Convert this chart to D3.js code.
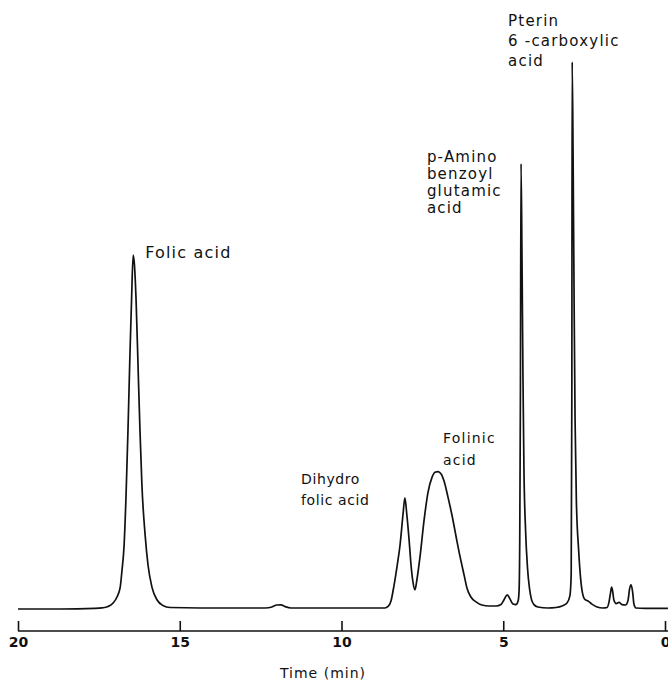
<!DOCTYPE html>
<html>
<head>
<meta charset="utf-8">
<script src="https://cdn.jsdelivr.net/npm/d3@7"></script>
<style>
  body { margin: 0; background: #fff; }
  svg { display: block; }
  .lbl { font-family: "DejaVu Sans", sans-serif; fill: #111; }
</style>
</head>
<body>
<div id="chart"></div>
<script>
// retention time (min) and detector response (% of largest peak)
const timeMin = [
  20.00, 18.70, 17.62, 17.40, 17.22, 17.06, 16.94, 16.84, 16.79, 16.72,
  16.66, 16.60, 16.54, 16.49, 16.44, 16.40, 16.35, 16.29, 16.23, 16.17,
  16.07, 15.98, 15.86, 15.70, 15.52, 15.30, 14.37, 12.36, 12.15, 12.00,
  11.87, 11.75, 11.56, 8.66, 8.56, 8.47, 8.38, 8.28, 8.19, 8.10,
  8.04, 7.98, 7.91, 7.85, 7.79, 7.73, 7.67, 7.57, 7.45, 7.33,
  7.20, 7.11, 7.02, 6.92, 6.83, 6.71, 6.58, 6.46, 6.34, 6.21,
  6.12, 6.00, 5.84, 5.66, 5.44, 5.22, 5.07, 4.98, 4.88, 4.79,
  4.70, 4.61, 4.54, 4.51, 4.49, 4.47, 4.45, 4.42, 4.39, 4.36,
  4.31, 4.25, 4.19, 4.13, 4.05, 3.93, 3.62, 3.37, 3.18, 3.03,
  2.94, 2.90, 2.88, 2.87, 2.84, 2.81, 2.78, 2.74, 2.67, 2.61,
  2.55, 2.47, 2.38, 2.26, 2.10, 1.92, 1.79, 1.73, 1.68, 1.65,
  1.62, 1.58, 1.51, 1.42, 1.33, 1.22, 1.14, 1.10, 1.05, 1.00,
  0.96, 0.90, 0.62, -0.09
];
const response = [
  0.0, 0.0, 0.1, 0.2, 0.45, 1.1, 2.2, 4.0, 6.8, 11.7,
  20.8, 32.7, 46.4, 56.5, 64.7, 62.9, 56.5, 44.6, 32.7, 22.7,
  13.5, 8.0, 4.0, 1.65, 0.64, 0.27, 0.18, 0.18, 0.37, 0.73,
  0.77, 0.46, 0.18, 0.18, 0.46, 1.46, 4.2, 7.9, 11.7, 17.2,
  20.3, 17.2, 12.6, 8.0, 4.9, 3.5, 5.3, 9.7, 16.1, 21.2,
  24.1, 25.0, 25.1, 24.7, 23.4, 20.5, 17.0, 13.3, 9.7, 6.2,
  3.8, 2.2, 1.3, 0.73, 0.55, 0.55, 0.82, 1.65, 2.6, 1.8,
  0.9, 0.8, 1.46, 3.5, 12.6, 38.2, 81.4, 63.8, 41.9, 25.4,
  14.4, 7.5, 3.8, 1.8, 0.8, 0.37, 0.18, 0.27, 0.55, 1.1,
  2.4, 6.2, 38.2, 100, 82.1, 56.5, 34.6, 19.9, 10.8, 5.7,
  2.9, 1.7, 1.46, 0.9, 0.37, 0.18, 0.27, 1.3, 3.1, 4.0,
  3.3, 1.65, 1.0, 1.2, 0.8, 0.73, 1.65, 3.5, 4.4, 3.1,
  0.9, 0.18, 0.1, 0.1
];
const tickValues = [20, 15, 10, 5, 0];
const axisTitle = 'Time (min)';

// peak names, anchored at (time, response) of the first line's left baseline
const peakNames = [
  ['Folic acid'],
  ['Dihydro', 'folic acid'],
  ['Folinic', 'acid'],
  ['p-Amino', 'benzoyl', 'glutamic', 'acid'],
  ['Pterin', '6 -carboxylic', 'acid']
];
const nameTime = [16.07, 11.25, 6.86, 7.36, 4.85];
const nameResp = [64.2, 22.9, 30.3, 81.7, 106.6];

const W = 668, H = 682;
const svg = d3.select('#chart').append('svg').attr('width', W).attr('height', H);

const x = d3.scaleLinear().domain([20, 0]).range([18, 665]);
const y = d3.scaleLinear().domain([0, 100]).range([609, 62]);

const pts = timeMin.map((t, i) => [t, response[i]]);
const line = d3.line()
  .x(d => x(d[0]))
  .y(d => y(d[1]))
  .curve(d3.curveMonotoneX);

svg.append('path')
  .datum(pts)
  .attr('d', line)
  .attr('fill', 'none')
  .attr('stroke', '#111')
  .attr('stroke-width', 1.7)
  .attr('stroke-linejoin', 'round');

// axis: ticks point up, labels below
const axis = d3.axisBottom(x)
  .tickValues(tickValues)
  .tickFormat(d3.format('d'))
  .tickSizeInner(-10)
  .tickSizeOuter(0)
  .tickPadding(6);

const gx = svg.append('g')
  .attr('transform', 'translate(0,631)')
  .call(axis);
gx.select('.domain').attr('stroke', '#111').attr('stroke-width', 1.6)
  .attr('d', `M${x(20)},0H${W}`);
gx.selectAll('.tick line').attr('stroke', '#111').attr('stroke-width', 1.6);
gx.selectAll('.tick text')
  .attr('class', 'lbl')
  .attr('font-size', 14)
  .attr('font-weight', 'bold')
  .style('font-family', '"DejaVu Sans", sans-serif')
  .attr('fill', '#111');

svg.append('text')
  .attr('class', 'lbl')
  .attr('x', 323)
  .attr('y', 678)
  .attr('text-anchor', 'middle')
  .attr('font-size', 14)
  .attr('letter-spacing', 1)
  .text(axisTitle);

const lineGap = [0, 21, 22, 17, 20];
const fontSize = [16, 14, 14, 15, 15];
const spacing = [1.2, 0.6, 1.2, 1.2, 1.2];

peakNames.forEach((lines, i) => {
  const t = svg.append('text')
    .attr('class', 'lbl')
    .attr('font-size', fontSize[i])
    .attr('letter-spacing', spacing[i])
    .attr('x', x(nameTime[i]))
    .attr('y', y(nameResp[i]));
  lines.forEach((s, j) => {
    t.append('tspan')
      .attr('x', x(nameTime[i]))
      .attr('y', y(nameResp[i]) + j * lineGap[i])
      .text(s);
  });
});
</script>
</body>
</html>
